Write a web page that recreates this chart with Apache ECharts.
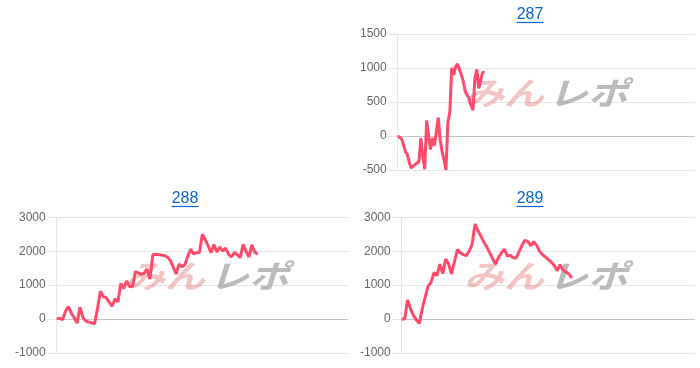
<!DOCTYPE html>
<html><head><meta charset="utf-8">
<script src="https://cdn.jsdelivr.net/npm/echarts@6/dist/echarts.min.js"></script>
<style>html,body{margin:0;padding:0;background:#fff}#c{width:700px;height:368px}</style>
</head><body><div id="c"></div>
<script>
const titles = ['287', '288', '289'];
const values287 = [0,-10,-40,-130,-230,-270,-390,-470,-470,-420,-400,-380,-30,-300,-490,230,0,-200,-30,-140,60,270,-60,-230,-350,-500,200,350,1000,900,1020,1060,1060,900,800,650,600,550,450,380,850,980,700,720,940,930];
const values288 = [20,20,-20,220,370,180,40,-120,350,50,-60,-90,-110,-140,300,820,660,630,500,380,600,500,1050,900,1120,960,950,1400,1360,1320,1350,1480,1180,1900,1900,1900,1890,1870,1830,1730,1530,1330,1620,1540,1600,1850,2060,1920,1960,1960,2500,2340,2160,1960,2200,1980,2120,2010,2090,1910,1830,1960,1900,1810,2200,2000,1830,2190,1970,1910];
const values289 = [0,0,560,300,110,-30,-130,300,650,970,1080,1370,1280,1620,1340,1770,1620,1330,1700,2050,1950,1900,1870,2000,2200,2800,2600,2450,2270,2130,1960,1780,1620,1820,1950,2060,1860,1880,1810,1800,1980,2170,2320,2290,2160,2280,2180,2000,1900,1830,1750,1680,1580,1430,1600,1450,1390,1330,1210];
const yTicks287 = [-500, 0, 500, 1000, 1500];
const yTicks288 = [-1000, 0, 1000, 2000, 3000];
const yTicks289 = [-1000, 0, 1000, 2000, 3000];
const slotCount287 = 155;
const slotCount288 = 101;
const slotCount289 = 101;

function cats(n){ const a=[]; for(let i=0;i<n;i++) a.push(String(i)); return a; }

const grids = [
  {left: 397.7, top: 34, width: 297.3, height: 136},
  {left: 56.7, top: 217.3, width: 291.3, height: 135.7},
  {left: 401.7, top: 217.3, width: 293.3, height: 135.7}
];
const ticks = [yTicks287, yTicks288, yTicks289];
const slots = [slotCount287, slotCount288, slotCount289];
const vals = [values287, values288, values289];
const titlePos = [[530, 15], [185, 199], [530, 199]];
const wmPos = [[546, 93], [207, 276], [546, 276]];

const xAxis = [], yAxis = [], series = [], graphic = [];
for (let k = 0; k < 3; k++) {
  const t = ticks[k];
  xAxis.push({type:'category', gridIndex:k, data: cats(slots[k]), boundaryGap:false,
    axisLine:{show:false}, axisTick:{show:false}, axisLabel:{show:false}, splitLine:{show:false}});
  const cols = t.map(v => v === 0 ? '#c4c4c4' : '#e6e6e6');
  yAxis.push({type:'value', gridIndex:k, min:t[0], max:t[t.length-1], interval:t[1]-t[0],
    axisLine:{show:true, lineStyle:{color:'#e6e6e6', width:1}},
    axisTick:{show:true, length:9, lineStyle:{color:'#e6e6e6'}},
    axisLabel:{color:'#666', fontSize:12, fontFamily:'Liberation Sans, Arial, sans-serif', margin:11, formatter: v => String(v)},
    splitLine:{show:true, lineStyle:{color:cols, width:1}}});
  series.push({type:'line', xAxisIndex:k, yAxisIndex:k, data: vals[k], showSymbol:false, symbol:'none',
    lineStyle:{color:'#ff4a6a', width:3}, itemStyle:{color:'#ff4a6a'}, z:5, animation:false});
  const [tx, ty] = titlePos[k];
  graphic.push({type:'text', x:tx, y:ty, style:{text:titles[k], fill:'#0a66d1', font:'16px "Liberation Sans", Arial, sans-serif', align:'center', verticalAlign:'middle'}, z:10});
  graphic.push({type:'line', shape:{x1:tx-13.5, y1:ty+7.5, x2:tx+13.5, y2:ty+7.5}, style:{stroke:'#0a66d1', lineWidth:1.2}, z:10});
  const [wx, wy] = wmPos[k];
  graphic.push({type:'text', x:wx-42, y:wy, scaleY:0.8, style:{text:'みん', fill:'rgba(228,125,125,0.45)', font:'italic bold 40px "Noto Sans CJK JP", sans-serif', align:'center', verticalAlign:'middle'}, z:1, silent:true});
  graphic.push({type:'text', x:wx+42, y:wy, scaleY:0.8, style:{text:'レポ', fill:'rgba(150,150,150,0.65)', font:'italic bold 40px "Noto Sans CJK JP", sans-serif', align:'center', verticalAlign:'middle'}, z:1, silent:true});
}

const chart = echarts.init(document.getElementById('c'), null, {renderer:'canvas'});
chart.setOption({animation:false, grid:grids, xAxis, yAxis, series, graphic});
</script></body></html>
